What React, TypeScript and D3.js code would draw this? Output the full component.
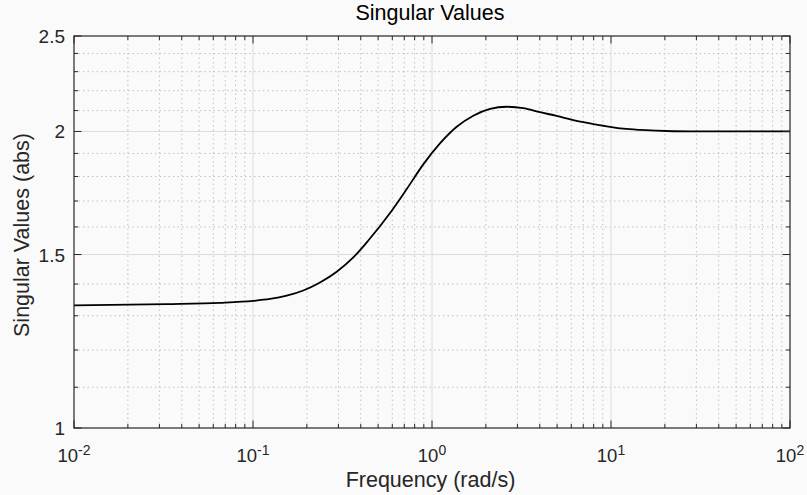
import React, { useEffect, useRef } from "react";
import * as d3 from "d3";

// frequency (rad/s) and singular value (abs)
const freqs = [0.01, 0.0329, 0.0654, 0.1004, 0.1245, 0.1543, 0.191, 0.2367, 0.2936, 0.3634, 0.4407, 0.583, 0.7223, 0.894, 1.108, 1.374, 1.701, 2.109, 2.614, 3.236, 4.012, 4.972, 6.158, 7.63, 9.46, 11.72, 14.52, 22.3, 31.4, 100];
const sv = [1.332, 1.336, 1.34, 1.346, 1.352, 1.3624, 1.379, 1.405, 1.441, 1.49, 1.55, 1.653, 1.748, 1.852, 1.945, 2.022, 2.075, 2.108, 2.119, 2.112, 2.092, 2.074, 2.054, 2.038, 2.024, 2.013, 2.007, 2.001, 2.0, 2.0];

const xMajor = [0.01, 0.1, 1, 10, 100];
const xExp = ["-2", "-1", "0", "1", "2"];
const yMajor = [1, 1.5, 2, 2.5];
const yMajorLabels = ["1", "1.5", "2", "2.5"];
const yMinor = [1.1, 1.2, 1.3, 1.4, 1.6, 1.7, 1.8, 1.9, 2.1, 2.2, 2.3, 2.4];

const W = 807;
const H = 495;
const margin = { left: 74, right: 17, top: 36, bottom: 67 };

export default function App() {
  const ref = useRef<SVGSVGElement>(null);

  useEffect(() => {
    document.body.style.margin = "0";
    const svg = d3.select(ref.current);
    svg.selectAll("*").remove();

    const x = d3.scaleLog().domain([0.01, 100]).range([margin.left, W - margin.right]);
    const y = d3.scaleLog().domain([1, 2.5]).range([H - margin.bottom, margin.top]);
    const [x0, x1] = x.range();
    const [y0, y1] = y.range();

    svg.append("rect").attr("width", W).attr("height", H).attr("fill", "#fafafa");

    // minor x values: 2..9 per decade
    const xMinor: number[] = [];
    for (let d = -2; d < 2; d++) for (let k = 2; k <= 9; k++) xMinor.push(k * Math.pow(10, d));

    const g = svg.append("g");

    // minor grid
    g.selectAll(".xmin").data(xMinor).enter().append("line")
      .attr("x1", d => x(d)).attr("x2", d => x(d)).attr("y1", y0).attr("y2", y1)
      .attr("stroke", "#c2c2c2").attr("stroke-dasharray", "1.5,3").attr("stroke-width", 1);
    g.selectAll(".ymin").data(yMinor).enter().append("line")
      .attr("y1", d => y(d)).attr("y2", d => y(d)).attr("x1", x0).attr("x2", x1)
      .attr("stroke", "#c2c2c2").attr("stroke-dasharray", "1.5,3").attr("stroke-width", 1);

    // major grid
    g.selectAll(".xmaj").data(xMajor.slice(1, -1)).enter().append("line")
      .attr("x1", d => x(d)).attr("x2", d => x(d)).attr("y1", y0).attr("y2", y1)
      .attr("stroke", "#dcdcdc").attr("stroke-width", 1);
    g.selectAll(".ymaj").data(yMajor.slice(1, -1)).enter().append("line")
      .attr("y1", d => y(d)).attr("y2", d => y(d)).attr("x1", x0).attr("x2", x1)
      .attr("stroke", "#dcdcdc").attr("stroke-width", 1);

    // curve
    const line = d3.line<number>()
      .x((_, i) => x(freqs[i]))
      .y(d => y(d))
      .curve(d3.curveMonotoneX);
    g.append("path").datum(sv).attr("d", line)
      .attr("fill", "none").attr("stroke", "#000").attr("stroke-width", 1.8);

    // ticks (inward, all four sides)
    const tick = (ax: number, ay: number, bx: number, by: number) =>
      g.append("line").attr("x1", ax).attr("y1", ay).attr("x2", bx).attr("y2", by)
        .attr("stroke", "#262626").attr("stroke-width", 1);
    xMinor.forEach(v => { tick(x(v), y0, x(v), y0 - 4); tick(x(v), y1, x(v), y1 + 4); });
    xMajor.forEach(v => { tick(x(v), y0, x(v), y0 - 7.5); tick(x(v), y1, x(v), y1 + 7.5); });
    yMinor.forEach(v => { tick(x0, y(v), x0 + 4, y(v)); tick(x1, y(v), x1 - 4, y(v)); });
    yMajor.forEach(v => { tick(x0, y(v), x0 + 7.5, y(v)); tick(x1, y(v), x1 - 7.5, y(v)); });

    // box
    g.append("rect").attr("x", x0).attr("y", y1).attr("width", x1 - x0).attr("height", y0 - y1)
      .attr("fill", "none").attr("stroke", "#262626").attr("stroke-width", 1.2);

    const font = "Liberation Sans, Arial, Helvetica, sans-serif";

    // x tick labels with superscript exponents
    xMajor.forEach((v, i) => {
      const t = g.append("text").attr("x", x(v)).attr("y", 461.5)
        .attr("text-anchor", "middle").attr("font-family", font).attr("font-size", 18.5).attr("fill", "#262626");
      t.append("tspan").text("10");
      t.append("tspan").attr("dy", -7).attr("font-size", 14).text(xExp[i]);
    });

    // y tick labels
    yMajor.forEach((v, i) => {
      g.append("text").attr("x", 65).attr("y", y(v) + 7)
        .attr("text-anchor", "end").attr("font-family", font).attr("font-size", 19).attr("fill", "#262626")
        .text(yMajorLabels[i]);
    });

    // title and axis labels
    g.append("text").attr("x", 430).attr("y", 20).attr("text-anchor", "middle")
      .attr("font-family", font).attr("font-size", 21.5).attr("fill", "#000").text("Singular Values");
    g.append("text").attr("x", 430.5).attr("y", 486.5).attr("text-anchor", "middle")
      .attr("font-family", font).attr("font-size", 21.5).attr("fill", "#262626").text("Frequency (rad/s)");
    g.append("text").attr("transform", `translate(29,235) rotate(-90)`)
      .attr("text-anchor", "middle").attr("font-family", font).attr("font-size", 21.5).attr("fill", "#262626")
      .text("Singular Values (abs)");
  }, []);

  return <svg ref={ref} width={W} height={H} style={{ display: "block" }} />;
}
